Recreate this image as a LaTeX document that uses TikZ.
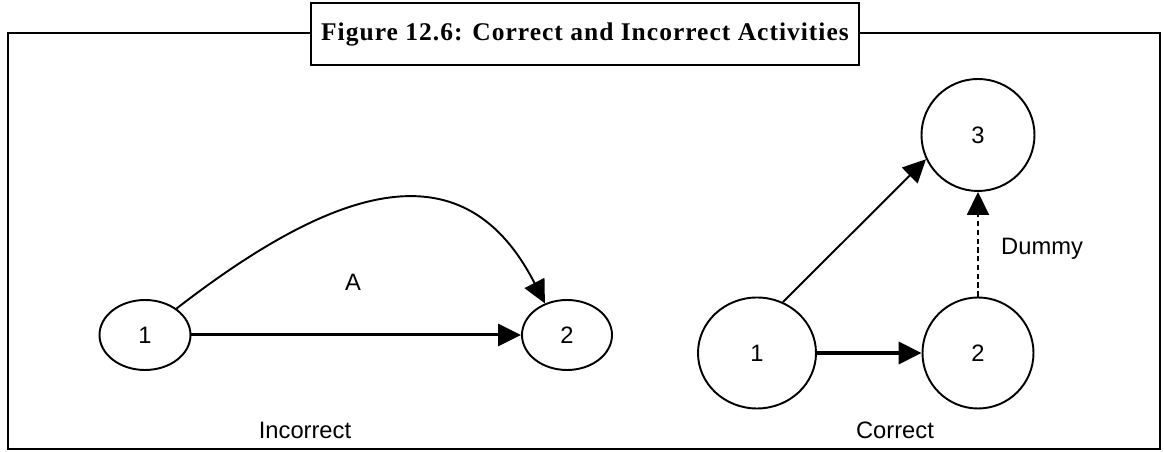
\documentclass[tikz,border=0pt]{standalone}
\usepackage{fontspec}
\setmainfont{Liberation Sans}
\newfontfamily\titlefont[LetterSpace=4]{Liberation Serif}
\usetikzlibrary{shapes.geometric,arrows.meta}
\tikzset{
    event/.style={draw, ellipse, line width=1.1pt, inner sep=0pt},
    arr/.style={-{Triangle[length=0.46cm,width=0.44cm]}, line width=1.1pt},
}
\begin{document}
\begin{tikzpicture}[font=\fontsize{13.5}{16}\selectfont]
    \useasboundingbox (0, 0) rectangle (23.28, 9.04);
    \draw[line width=1.1pt] (0.16, 0.06) rectangle (23.2, 8.38);
    \node[draw, fill=white, line width=1.3pt, minimum width=10.96cm, minimum height=1.24cm,
        font=\titlefont\bfseries\fontsize{14.5}{17}\selectfont] (title) at (11.7, 8.36)
        {Figure 12.6: Correct and Incorrect Activities};

    % Incorrect
    \node[event, minimum width=1.82cm, minimum height=1.4cm] (i1) at (2.9, 2.34) {1};
    \node[event, minimum width=1.8cm, minimum height=1.4cm] (i2) at (11.34, 2.34) {2};
    \draw[arr, line width=1.7pt] (i1) -- (i2);
    \draw[arr] (i1.40) .. controls (6.8, 5.4) and (9.3, 6.1) .. (i2.125);
    \node (lblA) at (7.06, 3.4) {A};
    \node (lblIncorrect) at (6.1, 0.44) {Incorrect};

    % Correct
    \node[event, minimum width=2.36cm, minimum height=2.22cm] (c1) at (15.14, 1.98) {1};
    \node[event, minimum width=2.22cm, minimum height=2.22cm] (c2) at (19.56, 1.98) {2};
    \node[event, minimum width=2.26cm, minimum height=2.24cm] (c3) at (19.56, 6.34) {3};
    \draw[arr, line width=2.2pt] (c1) -- (c2);
    \draw[arr] (c1.63) -- (c3.205);
    \draw[arr, dash pattern=on 3pt off 2pt] (c2) -- (c3);
    \node[anchor=west] (lblDummy) at (19.9, 4.06) {Dummy};
    \node (lblCorrect) at (17.9, 0.44) {Correct};
\end{tikzpicture}
\end{document}
